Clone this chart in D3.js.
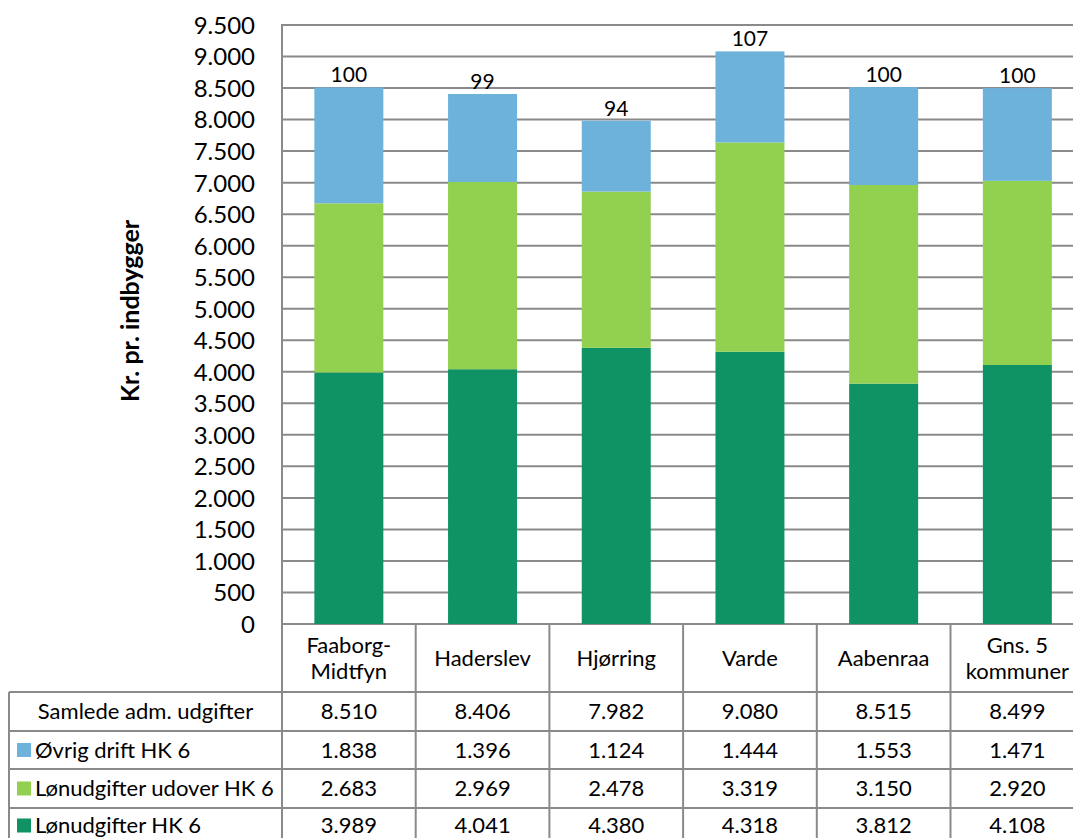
<!DOCTYPE html>
<html><head><meta charset="utf-8">
<script src="https://cdn.jsdelivr.net/npm/d3@7"></script>
<style>
html,body{margin:0;padding:0;background:#fff;overflow:hidden}
svg{display:block}
text{font-family:Lato,"Open Sans",sans-serif;fill:#000}
</style></head>
<body>
<script>
const categories = ["Faaborg-Midtfyn","Haderslev","Hjørring","Varde","Aabenraa","Gns. 5 kommuner"];
const categoryLines = [["Faaborg-","Midtfyn"],["Haderslev"],["Hjørring"],["Varde"],["Aabenraa"],["Gns. 5","kommuner"]];
const lonHK6 = [3989,4041,4380,4318,3812,4108];
const lonUdover = [2683,2969,2478,3319,3150,2920];
const ovrigDrift = [1838,1396,1124,1444,1553,1471];
const samlede = [8510,8406,7982,9080,8515,8499];
const indexLabels = [100,99,94,107,100,100];
const yTicks = d3.range(0, 9501, 500);
const seriesNames = ["Lønudgifter HK 6","Lønudgifter udover HK 6","Øvrig drift HK 6"];
const seriesColors = ["#0f9364","#92d050","#6cb2db"];
const yTitle = "Kr. pr. indbygger";
const totalLabel = "Samlede adm. udgifter";

(function(){
const W = 1073, H = 838;
const fmt = d3.formatLocale({decimal:",",thousands:".",grouping:[3],currency:["","kr"]}).format(",d");

const svg = d3.select("body").append("svg").attr("width",W).attr("height",H);

const plotLeft = 282, step = 133.7, plotTop = 25, zeroY = 624;
const x = d3.scaleBand().domain(categories).range([plotLeft, plotLeft + step*6]).paddingInner(0.484).paddingOuter(0.242);
const y = d3.scaleLinear().domain([0,9500]).range([zeroY, plotTop]);
const gridColor = "#8a8a8a";
const tableFont = 22;

svg.append("g").selectAll("line").data(yTicks).join("line")
  .attr("x1", plotLeft).attr("x2", W+20)
  .attr("y1", d=>y(d)).attr("y2", d=>y(d))
  .attr("stroke", gridColor).attr("stroke-width", 2);

const yAxis = d3.axisLeft(y).tickValues(yTicks).tickFormat(fmt).tickSize(0).tickPadding(27);
const gy = svg.append("g").attr("transform",`translate(${plotLeft},0)`).call(yAxis);
gy.select(".domain").remove();
gy.selectAll("text").attr("font-size", 24).attr("font-family","Lato").attr("dy","0.35em").attr("fill","#000");

const rows = categories.map((c,i)=>({cat:c, a:lonHK6[i], b:lonUdover[i], c2:ovrigDrift[i]}));
const stack = d3.stack().keys(["a","b","c2"])(rows);
svg.append("g").selectAll("g").data(stack).join("g")
  .attr("fill",(d,i)=>seriesColors[i])
  .selectAll("rect").data(d=>d).join("rect")
  .attr("x", d=>x(d.data.cat)).attr("width", x.bandwidth())
  .attr("y", d=>y(d[1])).attr("height", d=>y(d[0])-y(d[1]));

svg.append("g").selectAll("text").data(categories).join("text")
  .attr("x", d=>x(d)+x.bandwidth()/2)
  .attr("y", (d,i)=>y(samlede[i]) - 5)
  .attr("text-anchor","middle").attr("font-size",21)
  .text((d,i)=>indexLabels[i]);

svg.append("line").attr("x1",plotLeft).attr("x2",plotLeft).attr("y1",plotTop-1).attr("y2",H)
  .attr("stroke",gridColor).attr("stroke-width",2);

svg.append("text").attr("transform","translate(139,311) rotate(-90)")
  .attr("text-anchor","middle").attr("font-weight","bold").attr("font-size",25)
  .text(yTitle);

const rowY = [692, 731, 769, 808, 843];
const tableLeft = 9;
const colEdges = d3.range(0,7).map(i=>plotLeft + i*step);
const tg = svg.append("g");
tg.selectAll("line.v").data(colEdges).join("line")
  .attr("x1",d=>d).attr("x2",d=>d).attr("y1",zeroY).attr("y2",H)
  .attr("stroke",gridColor).attr("stroke-width",2);
tg.append("line").attr("x1",tableLeft).attr("x2",tableLeft).attr("y1",rowY[0]).attr("y2",H)
  .attr("stroke",gridColor).attr("stroke-width",2);
tg.selectAll("line.h").data(rowY.slice(0,4)).join("line")
  .attr("x1",tableLeft).attr("x2",W+20).attr("y1",d=>d).attr("y2",d=>d)
  .attr("stroke",gridColor).attr("stroke-width",2);

categories.forEach((c,i)=>{
  const lines = categoryLines[i];
  const cx = x(c)+x.bandwidth()/2;
  const cy = (zeroY+rowY[0])/2;
  const lh = 26;
  lines.forEach((ln,j)=>{
    tg.append("text").attr("x",cx).attr("y", cy + (j-(lines.length-1)/2)*lh)
      .attr("dy","0.35em").attr("text-anchor","middle").attr("font-size",tableFont).text(ln);
  });
});

const tableRows = [
  {label: totalLabel, vals: samlede, color: null},
  {label: seriesNames[2], vals: ovrigDrift, color: seriesColors[2]},
  {label: seriesNames[1], vals: lonUdover, color: seriesColors[1]},
  {label: seriesNames[0], vals: lonHK6, color: seriesColors[0]}
];
tableRows.forEach((r,k)=>{
  const cy = (rowY[k]+rowY[k+1])/2;
  if (r.color) {
    tg.append("rect").attr("x",17).attr("y",cy-7).attr("width",14).attr("height",14).attr("fill",r.color);
    tg.append("text").attr("x",35).attr("y",cy).attr("dy","0.35em").attr("font-size",tableFont).text(r.label);
  } else {
    tg.append("text").attr("x",(tableLeft+plotLeft)/2).attr("y",cy).attr("dy","0.35em")
      .attr("text-anchor","middle").attr("font-size",tableFont).text(r.label);
  }
  categories.forEach((c,i)=>{
    tg.append("text").attr("x",x(c)+x.bandwidth()/2).attr("y",cy).attr("dy","0.35em")
      .attr("text-anchor","middle").attr("font-size",tableFont).text(fmt(r.vals[i]));
  });
});
})();
</script>
</body></html>
